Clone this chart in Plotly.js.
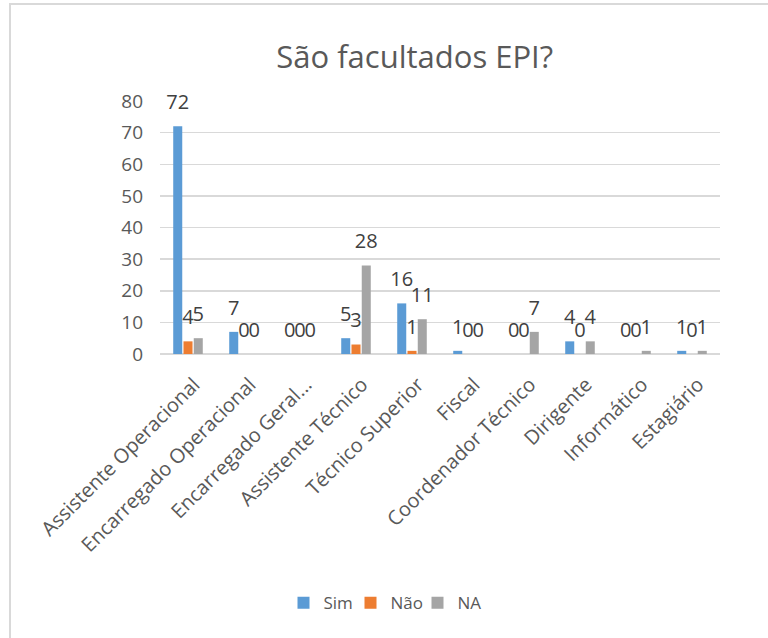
<!DOCTYPE html>
<html>
<head>
<meta charset="utf-8">
<script src="https://cdn.plot.ly/plotly-3.0.1.min.js"></script>
<style>
  html, body { margin: 0; padding: 0; background: #ffffff; }
  #frame { position: absolute; left: 9px; top: 3px; width: 780px; height: 660px;
           border-left: 2px solid #D9D9D9; border-top: 2px solid #D9D9D9;
           pointer-events: none; z-index: 2; }
  #chart { position: absolute; left: 0; top: 0; width: 768px; height: 638px; }
</style>
</head>
<body>
<div id="frame"></div>
<div id="chart"></div>
<script>
const categories = [
  "Assistente Operacional",
  "Encarregado Operacional",
  "Encarregado Geral...",
  "Assistente Técnico",
  "Técnico Superior",
  "Fiscal",
  "Coordenador Técnico",
  "Dirigente",
  "Informático",
  "Estagiário"
];
const simValues = [72, 7, 0, 5, 16, 1, 0, 4, 0, 1];
const naoValues = [4, 0, 0, 3, 1, 0, 0, 0, 0, 0];
const naValues  = [5, 0, 0, 28, 11, 0, 7, 4, 1, 1];
const yTicks = [0, 10, 20, 30, 40, 50, 60, 70, 80];

const fontFam = "'Open Sans', 'DejaVu Sans', sans-serif";
const textCol = "#595959";

function barSeries(name, vals, color, group) {
  return {
    type: "bar",
    name: name,
    x: categories,
    y: vals,
    offsetgroup: group,
    marker: { color: color },
    hoverinfo: "x+y+name"
  };
}

function labelSeries(name, vals, group) {
  return {
    type: "scatter",
    mode: "text+markers",
    name: name + " labels",
    x: categories,
    y: vals,
    offsetgroup: group,
    showlegend: false,
    cliponaxis: false,
    marker: { size: 18, color: "rgba(0,0,0,0)" },
    text: vals.map(String),
    textposition: "top center",
    textfont: { family: fontFam, size: 20, color: "#404040" },
    hoverinfo: "skip"
  };
}

const data = [
  barSeries("Sim", simValues, "#5B9BD5", "g1"),
  barSeries("Não", naoValues, "#ED7D31", "g2"),
  barSeries("NA", naValues, "#A5A5A5", "g3"),
  labelSeries("Sim", simValues, "g1"),
  labelSeries("Não", naoValues, "g2"),
  labelSeries("NA", naValues, "g3")
];

const layout = {
  width: 768,
  height: 638,
  margin: { l: 160, r: 48, t: 101, b: 284 },
  paper_bgcolor: "rgba(0,0,0,0)",
  plot_bgcolor: "rgba(0,0,0,0)",
  font: { family: fontFam, color: textCol },
  title: {
    text: "São facultados EPI?",
    font: { family: fontFam, size: 31, color: textCol },
    x: 0.54, xanchor: "center",
    y: 0.91, yanchor: "middle"
  },
  barmode: "group",
  bargap: 0.45,
  bargroupgap: 0.12,
  scattermode: "group",
  scattergap: 0.45,
  showlegend: true,
  legend: {
    orientation: "h",
    x: 0.40, xanchor: "center",
    y: -0.985, yanchor: "middle",
    font: { family: fontFam, size: 17, color: textCol },
    itemwidth: 30,
    entrywidth: 22,
    entrywidthmode: "pixels",
    traceorder: "normal"
  },
  xaxis: {
    type: "category",
    tickangle: -45,
    tickfont: { family: fontFam, size: 20, color: textCol },
    ticklabelshift: 6,
    ticklabelstandoff: 14,
    showline: false,
    ticks: "",
    showgrid: false,
    zeroline: false,
    automargin: false
  },
  yaxis: {
    range: [0, 80],
    tickvals: yTicks,
    ticktext: yTicks.map(String),
    tickfont: { family: fontFam, size: 19, color: textCol },
    ticklabelstandoff: 16,
    showgrid: true,
    gridcolor: "#D9D9D9",
    gridwidth: 1.5,
    zeroline: true,
    zerolinecolor: "#D9D9D9",
    zerolinewidth: 1.5,
    showline: false,
    ticks: "",
    ticklen: 0,
    automargin: false
  }
};

Plotly.newPlot("chart", data, layout, { displayModeBar: false, staticPlot: true });
</script>
</body>
</html>
